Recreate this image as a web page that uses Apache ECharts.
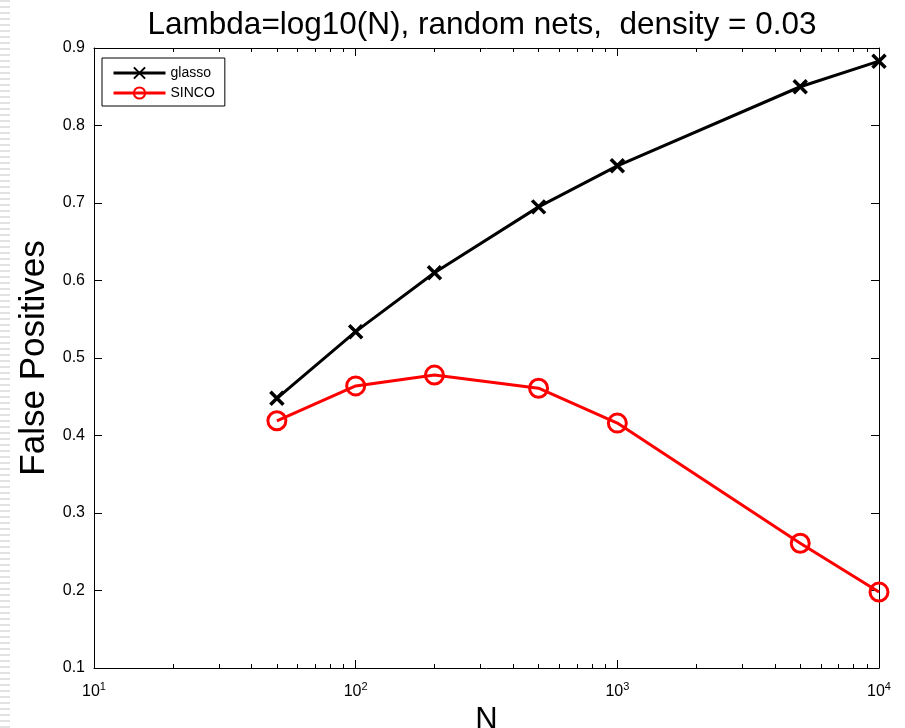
<!DOCTYPE html>
<html>
<head>
<meta charset="utf-8">
<script src="https://cdn.jsdelivr.net/npm/echarts@6/dist/echarts.min.js"></script>
<style>
  html, body { margin: 0; padding: 0; background: #fff; }
  #chart { width: 905px; height: 728px; }
</style>
</head>
<body>
<div id="chart"></div>
<script>
// data
const sampleSizes = [50, 100, 200, 500, 1000, 5000, 10000]
const glasso = [0.448, 0.534, 0.610, 0.695, 0.748, 0.850, 0.883]
const sinco = [0.419, 0.464, 0.478, 0.461, 0.416, 0.261, 0.198]
const minorTicks = [20, 30, 40, 50, 60, 70, 80, 90, 200, 300, 400, 500, 600, 700, 800, 900,
  2000, 3000, 4000, 5000, 6000, 7000, 8000, 9000]

const font = 'Liberation Sans'
const chart = echarts.init(document.getElementById('chart'))

// 'x' marker
const crossSymbol = 'path://M0,0L10,10M10,0L0,10'

function pair (arr) {
  return sampleSizes.map((n, i) => [n, arr[i]])
}

// faint striped strip on the left edge of the scan
const stripe = document.createElement('canvas')
stripe.width = 10
stripe.height = 6
const sctx = stripe.getContext('2d')
sctx.fillStyle = '#e2e2e2'
sctx.fillRect(0, 0, 10, 2)

// common bits for the boxed axes
const frameLine = { show: true, onZero: false, lineStyle: { color: '#000', width: 1 } }

const option = {
  animation: false,
  backgroundColor: '#fff',
  graphic: [
    {
      type: 'rect',
      left: 0,
      top: 0,
      shape: { width: 10, height: 728 },
      style: { fill: { image: stripe, repeat: 'repeat' } },
      silent: true
    }
  ],
  title: {
    text: 'Lambda=log10(N), random nets,  density = 0.03',
    left: 477,
    textAlign: 'center',
    top: 4,
    textStyle: { fontFamily: font, fontSize: 31.5, fontWeight: 'normal', color: '#000' }
  },
  grid: { left: 94, right: 26, top: 48, bottom: 60, containLabel: false, outerBoundsMode: 'none' },
  legend: {
    left: 102,
    top: 58,
    orient: 'vertical',
    borderColor: '#000',
    borderWidth: 1,
    padding: [8, 10, 6, 10],
    itemGap: 6,
    itemWidth: 52,
    itemHeight: 14,
    lineStyle: { width: 3 },
    textStyle: { fontFamily: font, fontSize: 14, color: '#000' },
    data: ['glasso', 'SINCO']
  },
  xAxis: [
    {
      type: 'log',
      logBase: 10,
      min: 10,
      max: 10000,
      position: 'bottom',
      name: 'N',
      nameLocation: 'middle',
      nameGap: 37,
      nameTextStyle: { fontFamily: font, fontSize: 31, color: '#000' },
      axisLine: frameLine,
      axisTick: { inside: true, length: 8, lineStyle: { color: '#000' } },
      splitLine: { show: false },
      axisLabel: {
        margin: 13,
        color: '#000',
        fontFamily: font,
        fontSize: 16,
        formatter: v => '10{sup|' + Math.round(Math.log10(v)) + '}',
        rich: {
          sup: { fontFamily: font, fontSize: 11, color: '#000', padding: [0, 0, 10, 0] }
        }
      }
    },
    {
      type: 'log', logBase: 10, min: 10, max: 10000, position: 'bottom',
      axisLine: { show: false },
      axisTick: { inside: true, length: 4, customValues: minorTicks, lineStyle: { color: '#000' } },
      axisLabel: { show: false },
      splitLine: { show: false }
    },
    {
      type: 'log', logBase: 10, min: 10, max: 10000, position: 'top',
      axisLine: frameLine,
      axisTick: { inside: true, length: 8, lineStyle: { color: '#000' } },
      axisLabel: { show: false },
      splitLine: { show: false }
    },
    {
      type: 'log', logBase: 10, min: 10, max: 10000, position: 'top',
      axisLine: { show: false },
      axisTick: { inside: true, length: 4, customValues: minorTicks, lineStyle: { color: '#000' } },
      axisLabel: { show: false },
      splitLine: { show: false }
    }
  ],
  yAxis: [
    {
      type: 'value',
      min: 0.1,
      max: 0.9,
      interval: 0.1,
      position: 'left',
      name: 'False Positives',
      nameLocation: 'middle',
      nameGap: 37,
      nameTextStyle: { fontFamily: font, fontSize: 35, color: '#000' },
      axisLine: frameLine,
      axisTick: { inside: true, length: 8, lineStyle: { color: '#000' } },
      splitLine: { show: false },
      axisLabel: {
        margin: 9,
        color: '#000',
        fontFamily: font,
        fontSize: 16,
        formatter: v => v.toFixed(1)
      }
    },
    {
      type: 'value',
      min: 0.1,
      max: 0.9,
      interval: 0.1,
      position: 'right',
      axisLine: frameLine,
      axisTick: { inside: true, length: 8, lineStyle: { color: '#000' } },
      splitLine: { show: false },
      axisLabel: { show: false }
    }
  ],
  series: [
    {
      name: 'glasso',
      type: 'line',
      data: pair(glasso),
      symbol: crossSymbol,
      symbolSize: 13,
      lineStyle: { color: '#000', width: 3 },
      itemStyle: { color: '#000', borderColor: '#000', borderWidth: 3.5 }
    },
    {
      name: 'SINCO',
      type: 'line',
      data: pair(sinco),
      symbol: 'circle',
      symbolSize: 18,
      showAllSymbol: true,
      lineStyle: { color: '#f00', width: 3 },
      itemStyle: { color: 'rgba(0,0,0,0)', borderColor: '#f00', borderWidth: 3 }
    }
  ]
}

chart.setOption(option)
window.addEventListener('resize', () => {
  chart.resize()
})
</script>
</body>
</html>
